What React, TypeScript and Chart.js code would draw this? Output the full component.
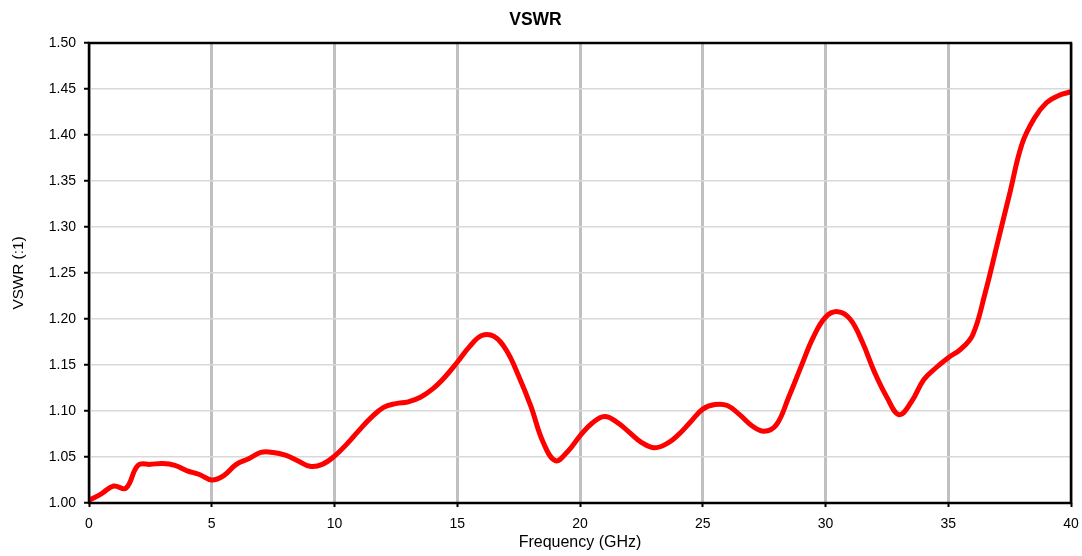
import React, { useEffect, useRef } from "react";
import { Chart, registerables } from "chart.js";

Chart.register(...registerables);

const freqGHz = [
  0, 0.5, 1, 1.5, 2, 2.5, 3, 3.5, 4, 4.5, 5, 5.5, 6, 6.5, 7, 7.5, 8, 8.5, 9, 9.5,
  10, 10.5, 11, 11.5, 12, 12.5, 13, 13.5, 14, 14.5, 15, 15.5, 16, 16.5, 17, 17.5, 18, 18.5, 19, 19.5,
  20, 20.5, 21, 21.5, 22, 22.5, 23, 23.5, 24, 24.5, 25, 25.5, 26, 26.5, 27, 27.5, 28, 28.5, 29, 29.5,
  30, 30.5, 31, 31.5, 32, 32.5, 33, 33.5, 34, 34.5, 35, 35.5, 36, 36.5, 37, 37.5, 38, 38.5, 39, 39.5, 40,
];
const vswr = [
  1.003, 1.010, 1.0185, 1.016, 1.041, 1.042, 1.043, 1.041, 1.035, 1.031, 1.025, 1.030, 1.042, 1.048, 1.055, 1.055, 1.052, 1.046, 1.040, 1.042,
  1.051, 1.064, 1.079, 1.093, 1.104, 1.108, 1.110, 1.115, 1.124, 1.137, 1.153, 1.170, 1.182, 1.181, 1.166, 1.138, 1.105, 1.066, 1.046, 1.056,
  1.073, 1.087, 1.094, 1.088, 1.077, 1.066, 1.060, 1.064, 1.074, 1.088, 1.102, 1.107, 1.106, 1.096, 1.084, 1.078, 1.085, 1.115, 1.148, 1.180,
  1.202, 1.208, 1.200, 1.175, 1.142, 1.115, 1.096, 1.110, 1.134, 1.147, 1.158, 1.167, 1.183, 1.228, 1.282, 1.336, 1.390, 1.418, 1.435, 1.443, 1.447,
];

const chartTitle = "VSWR";
const xTitle = "Frequency (GHz)";
const yTitle = "VSWR (:1)";

const FONT = "'Liberation Sans', Arial, sans-serif";

const borderPlugin = {
  id: "plotBorder",
  afterDraw(chart: any) {
    const { ctx, chartArea } = chart;
    ctx.save();
    ctx.strokeStyle = "#000";
    ctx.lineWidth = 2.5;
    ctx.strokeRect(chartArea.left, chartArea.top, chartArea.right - chartArea.left, chartArea.bottom - chartArea.top);
    ctx.restore();
  },
};

export default function App() {
  const ref = useRef<HTMLCanvasElement>(null);
  useEffect(() => {
    document.body.style.margin = "0";
    const c = ref.current!;
    const chart = new Chart(c, {
      type: "line",
      data: {
        datasets: [
          {
            data: freqGHz.map((f, i) => ({ x: f, y: vswr[i] })),
            borderColor: "#ff0000",
            borderWidth: 5,
            pointRadius: 0,
            tension: 0.4,
            fill: false,
            clip: false as any,
          },
        ],
      },
      options: {
        animation: false,
        responsive: false,
        devicePixelRatio: 1,
        layout: { padding: { left: 0, right: 11, top: 0, bottom: 0 } },
        plugins: {
          legend: { display: false },
          tooltip: { enabled: false },
          title: {
            display: true,
            text: chartTitle,
            color: "#000",
            font: { family: FONT, size: 17.5, weight: "bold" },
            padding: { top: 10, bottom: 12 },
          },
        },
        scales: {
          x: {
            type: "linear",
            min: 0,
            max: 40,
            afterFit: (s: any) => {
              s.height = 53;
              s.paddingRight = 0;
              s.paddingLeft = 0;
            },
            ticks: {
              stepSize: 5,
              color: "#000",
              padding: 9,
              font: { family: FONT, size: 14 },
            },
            grid: { color: "#c0c0c0", lineWidth: 3, drawTicks: true, tickColor: "#000", tickLength: 4, tickWidth: 2 },
            border: { display: false },
            title: {
              display: true,
              text: xTitle,
              color: "#000",
              font: { family: FONT, size: 16 },
              padding: { top: 0, bottom: 4 },
            },
          },
          y: {
            min: 1.0,
            max: 1.5,
            afterFit: (s: any) => {
              s.width = 89;
              s.paddingTop = 0;
              s.paddingBottom = 0;
            },
            ticks: {
              stepSize: 0.05,
              color: "#000",
              padding: 8,
              font: { family: FONT, size: 14 },
              callback: (v: any) => Number(v).toFixed(2),
            },
            grid: { color: "#d9d9d9", lineWidth: 1.5, tickColor: "#000", tickLength: 5, tickWidth: 2 },
            border: { display: false },
            title: {
              display: true,
              text: yTitle,
              color: "#000",
              font: { family: FONT, size: 15.3 },
              padding: 10,
            },
          },
        },
      },
      plugins: [borderPlugin],
    });
    return () => chart.destroy();
  }, []);
  return (
    <div style={{ position: "absolute", left: 0, top: 0, width: 1082, height: 556 }}>
      <canvas ref={ref} width={1082} height={556} style={{ width: 1082, height: 556 }} />
    </div>
  );
}
